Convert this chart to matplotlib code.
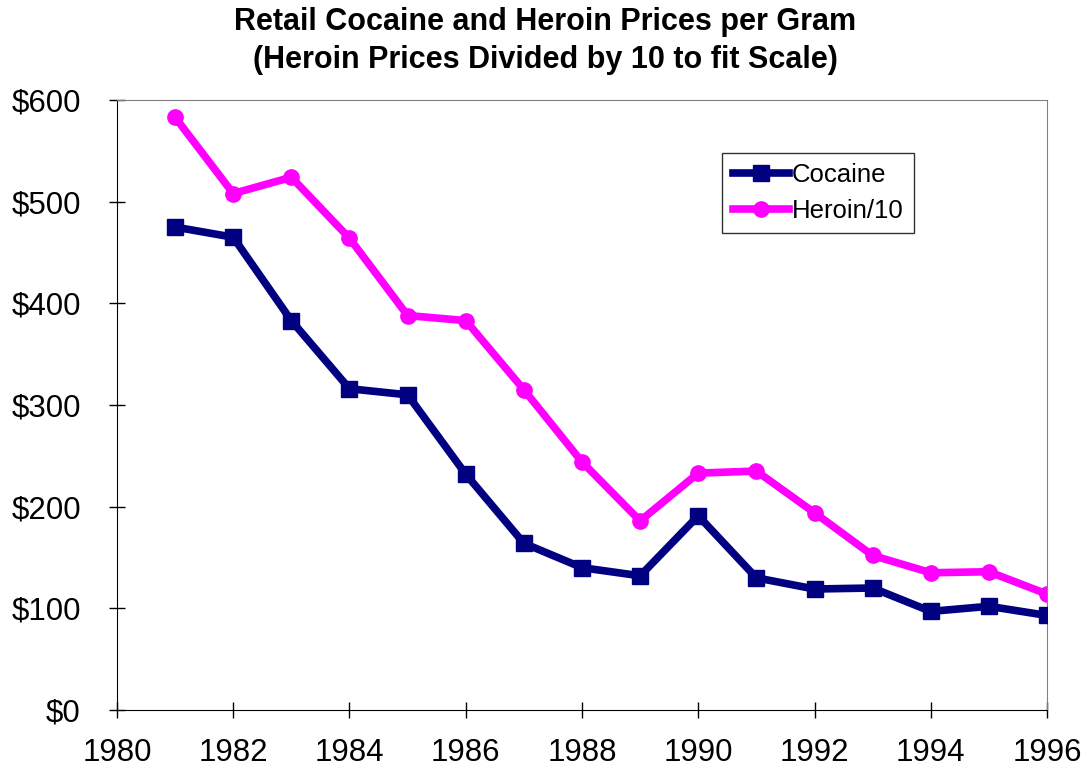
import numpy as np
import matplotlib
matplotlib.use('Agg')
import matplotlib.pyplot as plt
from matplotlib.ticker import FuncFormatter

# Data
years = [1981, 1982, 1983, 1984, 1985, 1986, 1987, 1988,
         1989, 1990, 1991, 1992, 1993, 1994, 1995, 1996]
cocaine = [475, 465, 383, 316, 310, 232, 164, 140,
           132, 191, 130, 119, 120, 97, 102, 93]
heroin_10 = [583, 508, 524, 464, 388, 383, 315, 244,
             186, 233, 235, 194, 152, 135, 136, 114]

plt.rcParams['font.family'] = ['Liberation Sans', 'DejaVu Sans']

fig = plt.figure(figsize=(10.91, 7.72), dpi=100)
ax = fig.add_axes([0.1072, 0.0803, 0.8525, 0.7902])

ax.plot(years, cocaine, color='#000080', lw=5.5, marker='s', ms=11,
        label='Cocaine', zorder=3)
ax.plot(years, heroin_10, color='#ff00ff', lw=5.5, marker='o', ms=11,
        label='Heroin/10', zorder=2)

ax.set_xlim(1980, 1996)
ax.set_ylim(0, 600)
ax.set_xticks(range(1980, 1997, 2))
ax.set_yticks(range(0, 601, 100))
ax.yaxis.set_major_formatter(FuncFormatter(lambda v, p: f'${int(v)}'))
ax.tick_params(direction='inout', length=12, width=1, labelsize=22.5)
ax.tick_params(axis='x', pad=14)
ax.tick_params(axis='y', pad=20)

for side in ['top', 'right']:
    ax.spines[side].set_color('#808080')
for side in ['left', 'bottom']:
    ax.spines[side].set_color('black')

fig.text(0.5, 0.972, 'Retail Cocaine and Heroin Prices per Gram',
         ha='center', va='center', fontsize=22, fontweight='bold')
fig.text(0.5, 0.922, '(Heroin Prices Divided by 10 to fit Scale)',
         ha='center', va='center', fontsize=22, fontweight='bold')

leg = ax.legend(loc='upper left', bbox_to_anchor=(0.651, 0.913), fontsize=18.5,
                frameon=True, fancybox=False, edgecolor='black',
                handlelength=2.2, handletextpad=0.1, borderpad=0.4,
                labelspacing=0.45, borderaxespad=0)
leg.get_frame().set_linewidth(1)

fig.savefig('out.png', dpi=100)
